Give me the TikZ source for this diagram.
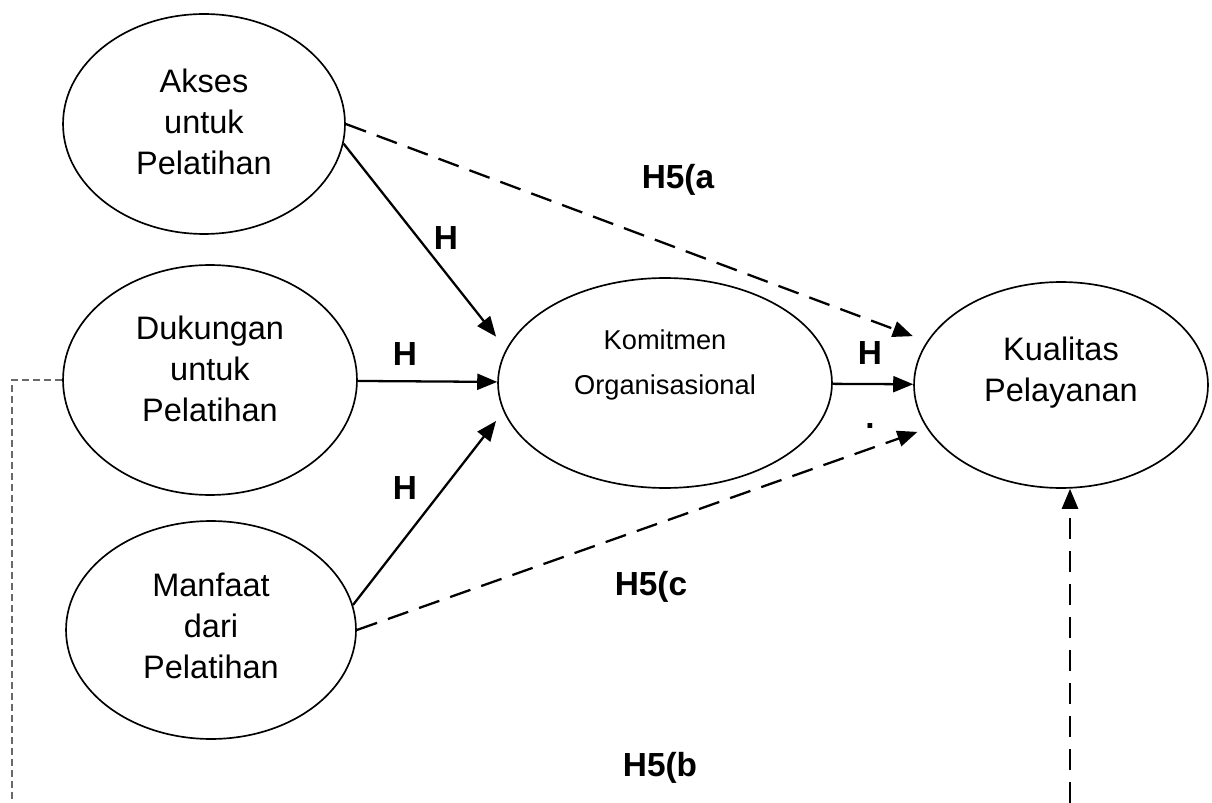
\documentclass[tikz,border=0pt]{standalone}
\usepackage{fontspec}
\setmainfont{Liberation Sans}
\usepackage{tikz}
\usetikzlibrary{arrows.meta, positioning, shapes.geometric}
\usepackage{xcolor}
\definecolor{linkgray}{RGB}{105, 105, 105}
\newcommand{\ovaltext}[2]{\raisebox{#1}[0pt][0pt]{\begin{tabular}{@{}c@{}}#2\end{tabular}}}

\begin{document}
\begin{tikzpicture}[x=0.02cm, y=-0.02cm,
    construct/.style={draw, ellipse, line width=0.95pt, inner sep=0pt, font=\fontsize{18.5}{23.5}\selectfont},
    hyp/.style={font=\bfseries\fontsize{19}{23}\selectfont},
    link/.style={line width=1.3pt, -{Triangle[length=0.4cm, width=0.32cm]}},
    dashlink/.style={link, dash pattern=on 0.43cm off 0.23cm},
    graylink/.style={linkgray, line width=1.3pt, dash pattern=on 0.15cm off 0.07cm}]
    \useasboundingbox (0,0) rectangle (1212,803);
    % constructs
    \node[construct, minimum width=5.64cm, minimum height=4.40cm] (akses) at (204,124) {\ovaltext{-5pt}{Akses\\untuk\\Pelatihan}};
    \node[construct, minimum width=5.88cm, minimum height=4.60cm] (dukungan) at (210,380) {\ovaltext{0pt}{Dukungan\\untuk\\Pelatihan}};
    \node[construct, minimum width=5.80cm, minimum height=4.36cm] (manfaat) at (211,630) {\ovaltext{-4pt}{Manfaat\\dari\\Pelatihan}};
    \node[construct, minimum width=6.68cm, minimum height=4.20cm, font=\fontsize{15.5}{25.6}\selectfont] (komitmen) at (665,383) {\ovaltext{7.6pt}{Komitmen\\Organisasional}};
    \node[construct, minimum width=5.88cm, minimum height=4.12cm] (kualitas) at (1061,385) {\ovaltext{2.7pt}{Kualitas\\Pelayanan}};
    \coordinate (grayfoot) at (12,803);
    \coordinate (qfoot) at (1070,803);
    % hypotheses
    \node[hyp] (hAK) at (446,238) {H};
    \node[hyp] (hDK) at (405,354) {H};
    \node[hyp] (hMK) at (405,488) {H};
    \node[hyp] (hKQ) at (870,353) {H};
    \node[hyp] (hAQ) at (678,180) {H5(a};
    \node[hyp] (hMQ) at (651,587) {H5(c};
    \node[hyp] (hDQ) at (660,768) {H5(b};
    \node[hyp] (hdot) at (870,426) {.};
    % paths
    \draw[link, shorten >=0.32cm] (akses.-8.5) -- (komitmen.168);
    \draw[link] (dukungan) -- (komitmen);
    \draw[link, shorten >=0.24cm] (manfaat.10.6) -- (komitmen.190.9);
    \draw[link] (komitmen) -- (kualitas);
    \draw[dashlink, shorten >=0.3cm] (akses.east) -- (kualitas.162.3);
    \draw[dashlink, shorten >=0.2cm] (manfaat.east) -- (kualitas.198.6);
    \draw[graylink] (dukungan.west) -- (dukungan.west -| grayfoot) -- (grayfoot);
    \draw[dashlink, line width=1.5pt] (qfoot) -- (qfoot |- kualitas.south);
\end{tikzpicture}
\end{document}
